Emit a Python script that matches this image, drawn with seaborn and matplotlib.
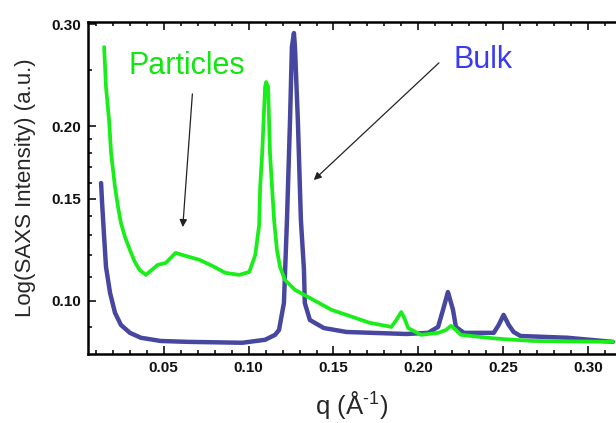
import numpy as np
import pandas as pd
import matplotlib.pyplot as plt
from matplotlib.ticker import FixedLocator, NullFormatter
import seaborn as sns

# values (q in 1/A, intensity in a.u.)
bulk_q = [0.0131, 0.0137, 0.0149, 0.0160, 0.0184, 0.0213, 0.0248, 0.0301,
          0.0365, 0.0482, 0.0641, 0.0963, 0.1097, 0.1156, 0.1179, 0.1208,
          0.1226, 0.1244, 0.1255, 0.1267, 0.1273, 0.1290, 0.1308, 0.1326,
          0.1331, 0.1361, 0.1443, 0.1577, 0.1929, 0.2057, 0.2116, 0.2145,
          0.2174, 0.2204, 0.2221, 0.2268, 0.2444, 0.2473, 0.2502, 0.2532,
          0.2561, 0.2602, 0.2877, 0.3146]
bulk_i = [0.1597, 0.1476, 0.1289, 0.1145, 0.1032, 0.0954, 0.0909, 0.0881,
          0.0864, 0.0853, 0.0850, 0.0847, 0.0857, 0.0874, 0.0891, 0.0992,
          0.1379, 0.2051, 0.2740, 0.2897, 0.2740, 0.2051, 0.1379, 0.1131,
          0.0992, 0.0927, 0.0898, 0.0884, 0.0877, 0.0881, 0.0902, 0.0965,
          0.1036, 0.0965, 0.0902, 0.0881, 0.0881, 0.0909, 0.0946, 0.0909,
          0.0884, 0.0870, 0.0864, 0.0850]

part_q = [0.0149, 0.0160, 0.0178, 0.0190, 0.0213, 0.0231, 0.0248, 0.0272,
          0.0301, 0.0330, 0.0359, 0.0395, 0.0465, 0.0512, 0.0570, 0.0629,
          0.0711, 0.0787, 0.0863, 0.0945, 0.1004, 0.1039, 0.1062, 0.1068,
          0.1080, 0.1097, 0.1103, 0.1115, 0.1126, 0.1138, 0.1150, 0.1167,
          0.1185, 0.1214, 0.1273, 0.1489, 0.1577, 0.1712, 0.1841, 0.1870,
          0.1899, 0.1917, 0.1940, 0.2016, 0.2116, 0.2163, 0.2192, 0.2221,
          0.2251, 0.2409, 0.2485, 0.2678, 0.3146]
part_i = [0.2740, 0.2339, 0.2051, 0.1799, 0.1573, 0.1452, 0.1363, 0.1289,
          0.1224, 0.1167, 0.1130, 0.1109, 0.1154, 0.1163, 0.1210, 0.1196,
          0.1177, 0.1149, 0.1118, 0.1109, 0.1122, 0.1200, 0.1350, 0.1573,
          0.1799, 0.2339, 0.2385, 0.2339, 0.1799, 0.1573, 0.1379, 0.1224,
          0.1145, 0.1087, 0.1045, 0.0965, 0.0946, 0.0917, 0.0902, 0.0927,
          0.0957, 0.0935, 0.0898, 0.0874, 0.0881, 0.0891, 0.0906, 0.0891,
          0.0874, 0.0864, 0.0860, 0.0853, 0.0850]

y_ticks = [0.10, 0.15, 0.20, 0.30]
y_labels = ["0.10", "0.15", "0.20", "0.30"]
x_ticks = [0.05, 0.10, 0.15, 0.20, 0.25, 0.30]
x_labels = ["0.05", "0.10", "0.15", "0.20", "0.25", "0.30"]

bulk_color = "#3d3d9a"
part_color = "#1aee1a"

sns.set_theme(style="ticks")
plt.rcParams["font.family"] = ["Liberation Sans", "DejaVu Sans"]

fig = plt.figure(figsize=(6.16, 4.23), dpi=100)
ax = fig.add_axes([88 / 616, 69 / 423, 1 - 88 / 616, 332 / 423])

bulk = pd.DataFrame({"q": bulk_q, "I": bulk_i})
part = pd.DataFrame({"q": part_q, "I": part_i})
sns.lineplot(data=bulk, x="q", y="I", ax=ax, color=bulk_color, lw=3.2,
             estimator=None, alpha=0.95, solid_joinstyle="round")
sns.lineplot(data=part, x="q", y="I", ax=ax, color=part_color, lw=2.7,
             estimator=None, solid_joinstyle="round")

ax.set_yscale("log")
ax.set_xlim(0.0054, 0.3164)
ax.set_ylim(0.0810, 0.3027)

ax.yaxis.set_major_locator(FixedLocator(y_ticks))
ax.set_yticklabels(y_labels)
ax.yaxis.set_minor_locator(FixedLocator([0.09, 0.11, 0.12, 0.13, 0.14,
                                         0.16, 0.17, 0.18, 0.19, 0.25]))
ax.yaxis.set_minor_formatter(NullFormatter())
ax.set_xticks(x_ticks)
ax.set_xticklabels(x_labels)
ax.set_xticks(np.arange(0.01, 0.32, 0.01), minor=True)

ax.tick_params(which="both", direction="in", top=True, right=False,
               width=1.2, labelsize=11, colors="#111111", pad=5)
ax.tick_params(which="major", length=6)
ax.tick_params(which="minor", length=3)
for lab in ax.get_xticklabels() + ax.get_yticklabels():
    lab.set_fontweight("bold")

for side in ["left", "bottom", "top"]:
    ax.spines[side].set_linewidth(1.8)
    ax.spines[side].set_color("black")
ax.spines["right"].set_visible(False)

ax.set_xlabel("q (Å$^{\\mathregular{\u2010}\\mathregular{1}}$)", fontsize=18.5,
              labelpad=10)
ax.set_ylabel("Log(SAXS Intensity) (a.u.)", fontsize=16, labelpad=11)

ax.text(0.0635, 0.2542, "Particles", color="#11e611", fontsize=22,
        ha="center", va="center")
ax.text(0.2379, 0.2603, "Bulk", color="#3a3aee", fontsize=22,
        ha="center", va="center")
arrow = dict(arrowstyle="-|>", color="#222222", lw=0.9, mutation_scale=11)
ax.annotate("", xy=(0.0611, 0.1326), xytext=(0.0670, 0.2300), arrowprops=arrow)
ax.annotate("", xy=(0.1372, 0.1604), xytext=(0.2133, 0.2593), arrowprops=arrow)

fig.savefig("out.png", dpi=100)
